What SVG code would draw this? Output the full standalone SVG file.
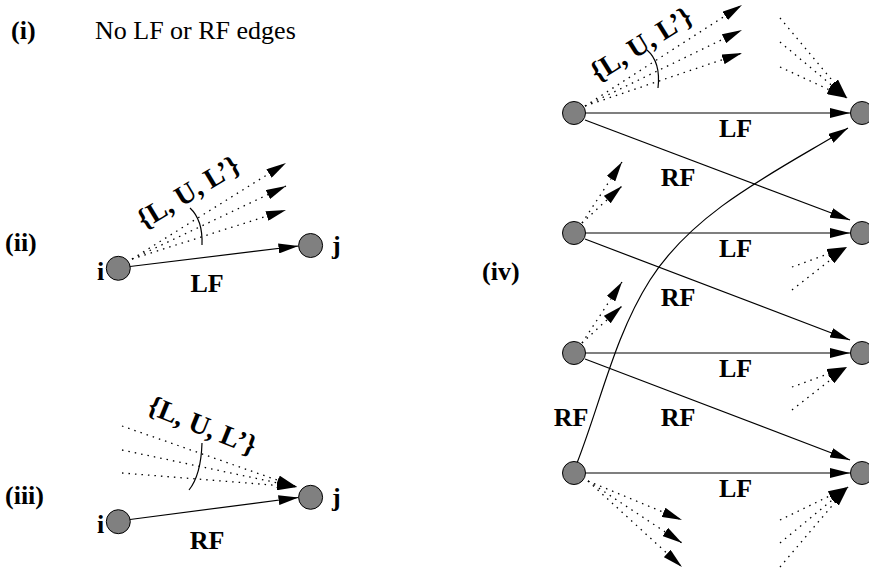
<svg xmlns="http://www.w3.org/2000/svg" width="869" height="573" viewBox="0 0 869 573">
<style>
text{font-family:"Liberation Serif","Times New Roman",serif;font-size:26px;fill:#000}
.b{font-weight:bold}
.r{font-size:28px}
.n{fill:#808080;stroke:#000;stroke-width:1}
.s{fill:none;stroke:#000;stroke-width:1.2}
.d{fill:none;stroke:#000;stroke-width:1.3;stroke-dasharray:1.5 5}
.a{marker-end:url(#ah)}
</style>
<defs>
<marker id="ah" markerUnits="userSpaceOnUse" viewBox="0 0 20 10" refX="20" refY="5" markerWidth="20" markerHeight="10" orient="auto">
<path d="M0,0 L20,5 L0,10 Z" fill="#000" stroke="none"/>
</marker>
</defs>
<rect width="869" height="573" fill="#fff"/>

<g id="labels">
<text class="b" x="11" y="39">(i)</text>
<text x="95" y="39">No LF or RF edges</text>
<text class="b" x="5" y="251">(ii)</text>
<text class="b" x="5" y="504">(iii)</text>
<text class="b" x="482" y="280">(iv)</text>
</g>

<g id="connectors">
<!-- (ii) -->
<line class="s a" x1="130" y1="266.5" x2="298.5" y2="246"/>
<line class="d a" x1="132" y1="259" x2="286" y2="163"/>
<line class="d a" x1="132" y1="259" x2="286" y2="186"/>
<line class="d a" x1="132" y1="259" x2="286" y2="210"/>
<path class="s" d="M190,208 Q203,220 202,245"/>
<!-- (iii) -->
<line class="s a" x1="130" y1="519.5" x2="298.5" y2="497.5"/>
<line class="d a" x1="122" y1="426" x2="297" y2="487"/>
<line class="d a" x1="122" y1="450" x2="297" y2="487"/>
<line class="d a" x1="122" y1="473" x2="297" y2="487"/>
<path class="s" d="M202,443 Q201,475 189,490"/>
<!-- (iv) LF -->
<line class="s a" x1="585.5" y1="113" x2="850" y2="113"/>
<line class="s a" x1="585.5" y1="233" x2="850" y2="233"/>
<line class="s a" x1="585.5" y1="353" x2="850" y2="353"/>
<line class="s a" x1="585.5" y1="473" x2="850" y2="473"/>
<!-- (iv) RF -->
<line class="s a" x1="585" y1="120" x2="850" y2="220"/>
<line class="s a" x1="585" y1="239" x2="850" y2="340"/>
<line class="s a" x1="585" y1="359" x2="850" y2="460"/>
<path class="s a" d="M577,463 C601,401.5 614.6,335.7 650,280 C694.6,210 777,171 848,128"/>
<!-- (iv) dotted -->
<line class="d a" x1="585" y1="106" x2="742" y2="5"/>
<line class="d a" x1="585" y1="106" x2="742" y2="30"/>
<line class="d a" x1="585" y1="106" x2="742" y2="53"/>
<line class="d a" x1="780" y1="18" x2="847" y2="98"/>
<line class="d a" x1="780" y1="42" x2="847" y2="98"/>
<line class="d a" x1="780" y1="67" x2="847" y2="98"/>
<path class="s" d="M647,50 Q661,62 658,88"/>
<line class="d a" x1="582" y1="223" x2="622" y2="162"/>
<line class="d a" x1="582" y1="223" x2="622" y2="186"/>
<line class="d a" x1="792" y1="267" x2="847" y2="247"/>
<line class="d a" x1="792" y1="290" x2="847" y2="247"/>
<line class="d a" x1="582" y1="343" x2="622" y2="282"/>
<line class="d a" x1="582" y1="343" x2="622" y2="306"/>
<line class="d a" x1="792" y1="387" x2="847" y2="367"/>
<line class="d a" x1="792" y1="410" x2="847" y2="367"/>
<line class="d a" x1="588" y1="481" x2="682" y2="520"/>
<line class="d a" x1="588" y1="481" x2="682" y2="543"/>
<line class="d a" x1="588" y1="481" x2="682" y2="567"/>
<line class="d a" x1="780" y1="520" x2="848" y2="487"/>
<line class="d a" x1="780" y1="543" x2="848" y2="487"/>
<line class="d a" x1="780" y1="567" x2="848" y2="487"/>
</g>

<g id="edge-labels">
<text class="b" x="207" y="292" text-anchor="middle">LF</text>
<text class="b" x="207" y="549" text-anchor="middle">RF</text>
<text class="b r" text-anchor="middle" transform="translate(193,200) rotate(-31)">{L, U, L’}</text>
<text class="b r" text-anchor="middle" transform="translate(199,434) rotate(22)">{L, U, L’}</text>
<text class="b r" text-anchor="middle" transform="translate(646,52) rotate(-32)">{L, U, L’}</text>
<text class="b" x="735.5" y="137" text-anchor="middle">LF</text>
<text class="b" x="735.5" y="257" text-anchor="middle">LF</text>
<text class="b" x="735.5" y="377" text-anchor="middle">LF</text>
<text class="b" x="735.5" y="497" text-anchor="middle">LF</text>
<text class="b" x="678" y="186" text-anchor="middle">RF</text>
<text class="b" x="678" y="306" text-anchor="middle">RF</text>
<text class="b" x="678" y="426" text-anchor="middle">RF</text>
<text class="b" x="571" y="426" text-anchor="middle">RF</text>
</g>

<g id="node-ii-i"><circle class="n" cx="118.3" cy="268.3" r="12"/><text class="b" x="97" y="280">i</text></g>
<g id="node-ii-j"><circle class="n" cx="310.6" cy="245.5" r="12"/><text class="b" x="332" y="254">j</text></g>
<g id="node-iii-i"><circle class="n" cx="118.3" cy="521.7" r="12"/><text class="b" x="97" y="533">i</text></g>
<g id="node-iii-j"><circle class="n" cx="310.6" cy="497.3" r="12"/><text class="b" x="332" y="506">j</text></g>
<g id="node-iv-l1"><circle class="n" cx="574" cy="113" r="11.5"/></g>
<g id="node-iv-l2"><circle class="n" cx="574" cy="233" r="11.5"/></g>
<g id="node-iv-l3"><circle class="n" cx="574" cy="353" r="11.5"/></g>
<g id="node-iv-l4"><circle class="n" cx="574" cy="473" r="11.5"/></g>
<g id="node-iv-r1"><circle class="n" cx="862" cy="113" r="11.5"/></g>
<g id="node-iv-r2"><circle class="n" cx="862" cy="233" r="11.5"/></g>
<g id="node-iv-r3"><circle class="n" cx="862" cy="353" r="11.5"/></g>
<g id="node-iv-r4"><circle class="n" cx="862" cy="473" r="11.5"/></g>
</svg>
